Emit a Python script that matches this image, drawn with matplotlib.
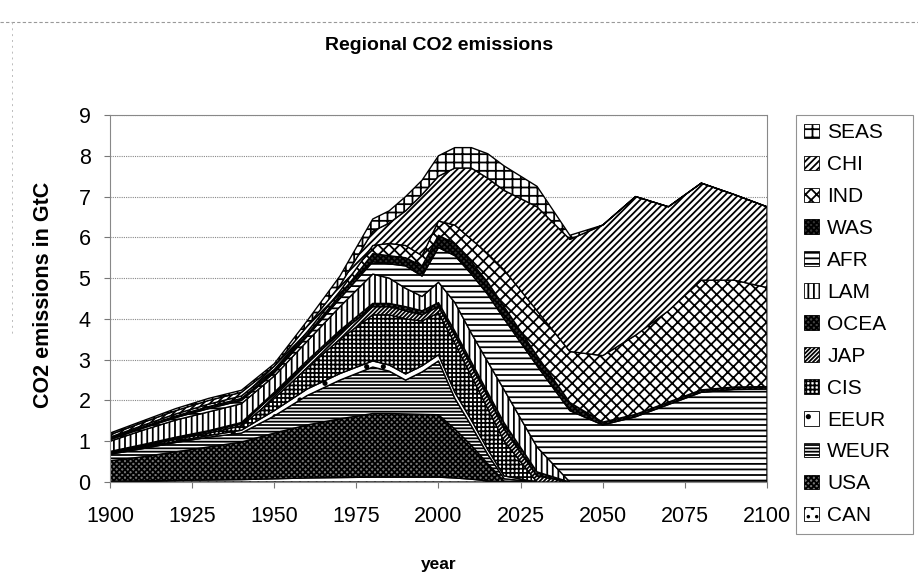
import matplotlib
matplotlib.use("Agg")
import matplotlib.pyplot as plt
from matplotlib.patches import Patch

plt.rcParams['font.family'] = ['Liberation Sans', 'DejaVu Sans']
plt.rcParams['hatch.linewidth'] = 1.3

# --- datos (GtC por region) ---
years = [1900, 1910, 1920, 1930, 1940, 1950, 1960, 1970, 1980, 1985, 1990, 1995,
         2000, 2005, 2010, 2015, 2020, 2030, 2040, 2050, 2060, 2070, 2080, 2090, 2100]

CAN = [.02, .03, .04, .05, .06, .08, .10, .11, .12, .12, .12, .12,
       .12, .10, .07, .03, 0, 0, 0, 0, 0, 0, 0, 0, 0]
USA = [.50, .59, .70, .81, .92, 1.12, 1.30, 1.44, 1.56, 1.56, 1.55, 1.54,
       1.53, 1.20, .83, .42, .02, 0, 0, 0, 0, 0, 0, 0, 0]
WEUR = [.16, .20, .23, .24, .22, .42, .72, .95, 1.14, 1.04, .83, 1.04,
        1.32, .75, .48, .23, .06, 0, 0, 0, 0, 0, 0, 0, 0]
EEUR = [.02, .03, .03, .04, .07, .13, .16, .16, .15, .15, .15, .15,
        .15, .15, .14, .12, .07, 0, 0, 0, 0, 0, 0, 0, 0]
CIS = [.02, .03, .05, .06, .11, .30, .52, .84, 1.13, 1.23, 1.35, 1.10,
       1.03, 1.20, 1.08, 1.00, .85, 0, 0, 0, 0, 0, 0, 0, 0]
JAP = [.02, .02, .03, .04, .05, .10, .12, .15, .20, .20, .20, .15,
       .15, .20, .25, .30, .30, .15, 0, 0, 0, 0, 0, 0, 0]
OCEA = [.01, .02, .02, .02, .03, .05, .06, .07, .08, .08, .10, .10,
        .10, .10, .10, .10, .15, .10, 0, 0, 0, 0, 0, 0, 0]
LAM = [.25, .35, .42, .46, .46, .40, .47, .58, .72, .62, .45, .35,
       .50, .70, .70, .75, .81, .61, 0, 0, 0, 0, 0, 0, 0]
AFR = [.04, .05, .06, .08, .08, .08, .12, .20, .30, .35, .55, .50,
       .85, 1.15, 1.45, 1.65, 1.74, 1.99, 1.75, 1.40, 1.60, 1.90, 2.20, 2.27, 2.28]
WAS = [.03, .03, .04, .05, .05, .04, .05, .08, .20, .20, .20, .25,
       .30, .30, .30, .30, .30, .25, .20, .07, .06, .06, .06, .06, .06]
IND = [.03, .04, .05, .06, .06, .04, .06, .10, .20, .30, .30, .25,
       .35, .45, .55, .70, .90, 1.10, 1.25, 1.63, 1.94, 2.24, 2.69, 2.62, 2.43]
CHI = [.06, .07, .08, .09, .09, .08, .14, .14, .35, .50, .85, 1.50,
       1.10, 1.40, 1.75, 1.85, 1.95, 2.55, 2.75, 3.20, 3.40, 2.55, 2.38, 2.10, 1.98]
SEAS = [.04, .04, .05, .05, .05, .06, .13, .23, .30, .30, .35, .35,
        .50, .50, .50, .60, .60, .50, .10, 0, 0, 0, 0, 0, 0]

regiones = ["CAN", "USA", "WEUR", "EEUR", "CIS", "JAP", "OCEA", "LAM",
            "AFR", "WAS", "IND", "CHI", "SEAS"]
series = [CAN, USA, WEUR, EEUR, CIS, JAP, OCEA, LAM, AFR, WAS, IND, CHI, SEAS]

# relleno blanco/negro estilo Excel
caras = ["white", "#777777", "white", "white", "white", "white", "#444444",
         "white", "white", "#333333", "white", "white", "white"]
tramas = ["..", "xxxxxx", "-----", ".", "++++", "////////", "xxxxxx", "|||",
          "---", "xxxxxx", "xxx", "/////", "++"]

# --- graficar ---
fig = plt.figure(figsize=(9.18, 5.77), dpi=100)
ax = fig.add_axes([0.1198, 0.1646, 0.7157, 0.6361])

capas = ax.stackplot(years, *series, colors=caras, edgecolor="black", linewidth=1.0)
for capa, trama in zip(capas, tramas):
    capa.set_hatch(trama)

ax.set_xlim(1900, 2100)
ax.set_ylim(0, 9)
ax.set_xticks(range(1900, 2101, 25))
ax.set_yticks(range(0, 10))
ax.tick_params(labelsize=15.5, length=4, color="#777777")
ax.tick_params(axis="x", pad=13)
ax.tick_params(axis="y", pad=10)
ax.grid(axis="y", color="#888888", linestyle=(0, (1, 1)), linewidth=0.8)
ax.set_axisbelow(True)
for lado in ax.spines.values():
    lado.set_color("#888888")
    lado.set_linestyle((0, (1, 1)))
    lado.set_linewidth(0.8)

fig.text(0.478, 0.922, "Regional CO2 emissions", ha="center", va="center",
         fontsize=14, fontweight="bold")
fig.text(0.478, 0.022, "year", ha="center", va="center",
         fontsize=12.5, fontweight="bold")
fig.text(0.047, 0.489, "CO2 emissions in GtC", ha="center", va="center",
         rotation=90, fontsize=15.5, fontweight="bold")

# bordes punteados del area del grafico
fig.add_artist(plt.Line2D([0.0, 1.0], [0.962, 0.962], color="#999999", linewidth=0.8,
                          linestyle=(0, (3, 2))))
fig.add_artist(plt.Line2D([0.013, 0.013], [0.962, 0.42], color="#bbbbbb", linewidth=0.7,
                          linestyle=(0, (2, 4))))

handles = [Patch(facecolor=c, edgecolor="black", hatch=h, linewidth=0.6)
           for c, h in zip(caras, tramas)][::-1]
leg = fig.legend(handles, regiones[::-1], loc="upper left",
                 bbox_to_anchor=(0.867, 0.078, 0.128, 0.7227), mode="expand",
                 fontsize=15, frameon=True, fancybox=False, edgecolor="#777777",
                 handlelength=0.7, handleheight=0.7, handletextpad=0.4,
                 labelspacing=0.62, borderpad=0.4, borderaxespad=0)
leg.get_frame().set_linewidth(0.8)

fig.savefig("out.png", dpi=100)
